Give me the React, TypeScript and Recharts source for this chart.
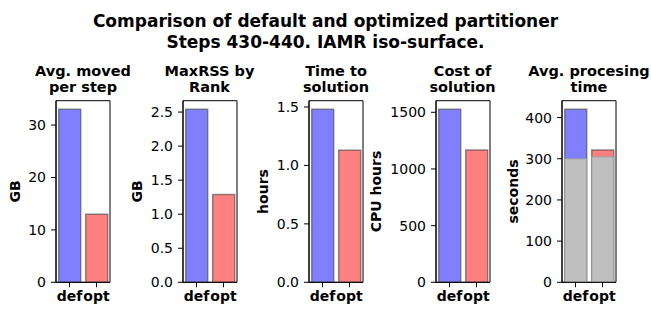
import { BarChart, Bar, XAxis, YAxis, Cell, ReferenceArea } from "recharts";

const FONT = "DejaVu Sans, Verdana, sans-serif";

const categories = ["def", "opt"];
const barColors = ["#8080ff", "#ff8080"];

// values
const movedGB = [33.0, 13.0];
const maxRssGB = [2.54, 1.29];
const timeHours = [1.48, 1.13];
const costCpuHours = [1526, 1167];
const procTotalSec = [420, 321];
const procBaseSec = [300, 305];

const movedTicks = [0, 10, 20, 30];
const rssTicks = [0, 0.5, 1.0, 1.5, 2.0, 2.5];
const timeTicks = [0, 0.5, 1.0, 1.5];
const costTicks = [0, 500, 1000, 1500];
const procTicks = [0, 100, 200, 300, 400];

const titleLines = [
  "Comparison of default and optimized partitioner",
  "Steps 430-440. IAMR iso-surface.",
];

// frame geometry (px)
const PLOT_TOP = 100.7;
const PLOT_BOTTOM = 282.3;
const PLOT_W = 54;
const AXIS_W = 60;

interface PanelDef {
  left: number;
  title: [string, string];
  ylabel: string;
  ylabelOffset: number;
  values: number[];
  base?: number[];
  ticks: number[];
  decimals: number;
}

const panels: PanelDef[] = [
  { left: 56, title: ["Avg. moved", "per step"], ylabel: "GB", ylabelOffset: 41.5, values: movedGB, ticks: movedTicks, decimals: 0 },
  { left: 182.5, title: ["MaxRSS by", "Rank"], ylabel: "GB", ylabelOffset: 45.6, values: maxRssGB, ticks: rssTicks, decimals: 1 },
  { left: 309, title: ["Time to", "solution"], ylabel: "hours", ylabelOffset: 46, values: timeHours, ticks: timeTicks, decimals: 1 },
  { left: 435.5, title: ["Cost of", "solution"], ylabel: "CPU hours", ylabelOffset: 60, values: costCpuHours, ticks: costTicks, decimals: 0 },
  { left: 562, title: ["Avg. procesing", "time"], ylabel: "seconds", ylabelOffset: 49, values: procTotalSec, base: procBaseSec, ticks: procTicks, decimals: 0 },
];

function Panel({ p }: { p: PanelDef }) {
  const data = categories.map((c, i) => ({
    name: c,
    value: p.values[i],
    base: p.base ? p.base[i] : undefined,
  }));
  const ymax = Math.max(...p.values) * 1.05;
  const tickStyle = { fontSize: 14, fill: "#000", fontFamily: FONT };
  return (
    <div style={{ position: "absolute", left: p.left - AXIS_W, top: 0 }}>
      <BarChart
        width={AXIS_W + PLOT_W + 4}
        height={309}
        data={data}
        margin={{ top: PLOT_TOP, right: 4, bottom: 0, left: 0 }}
        barCategoryGap="10%"
      >
        <XAxis
          dataKey="name"
          xAxisId="bottom"
          height={309 - PLOT_BOTTOM}
          interval={0}
          tickSize={5}
          tickMargin={3.5}
          tick={{ ...tickStyle, fontWeight: "bold" }}
          axisLine={{ stroke: "#000" }}
          tickLine={{ stroke: "#000" }}
        />
        <XAxis dataKey="name" xAxisId="top" orientation="top" height={0} hide />
        <YAxis
          yAxisId="left"
          type="number"
          width={AXIS_W}
          domain={[0, ymax]}
          ticks={p.ticks}
          interval={0}
          tickSize={5}
          tickMargin={5}
          tickFormatter={(v: number) => v.toFixed(p.decimals)}
          tick={tickStyle}
          axisLine={{ stroke: "#000" }}
          tickLine={{ stroke: "#000" }}
        />
        <Bar
          dataKey="value"
          xAxisId="bottom"
          yAxisId="left"
          isAnimationActive={false}
          stroke="#444"
          strokeOpacity={0.6}
          strokeWidth={1.5}
        >
          {data.map((d, i) => (
            <Cell key={d.name} fill={barColors[i]} />
          ))}
        </Bar>
        {p.base && (
          <Bar
            dataKey="base"
            xAxisId="top"
            yAxisId="left"
            isAnimationActive={false}
            fill="#bfbfbf"
            stroke="#999"
            strokeOpacity={0.5}
            strokeWidth={1.5}
          />
        )}
        <ReferenceArea
          xAxisId="bottom"
          yAxisId="left"
          y1={0}
          y2={ymax}
          fill="none"
          fillOpacity={0}
          stroke="#000"
          strokeWidth={1}
        />
      </BarChart>
    </div>
  );
}

export default function App() {
  const midY = (PLOT_TOP + PLOT_BOTTOM) / 2;
  return (
    <div
      style={{
        position: "absolute",
        left: 0,
        top: 0,
        width: 651,
        height: 309,
        background: "#fff",
        fontFamily: FONT,
      }}
    >
      {panels.map((p) => (
        <Panel key={p.title.join(" ")} p={p} />
      ))}
      <svg
        width={651}
        height={309}
        style={{ position: "absolute", left: 0, top: 0, pointerEvents: "none" }}
      >
        <g fontFamily={FONT} fontWeight="bold" fill="#000" textAnchor="middle">
          <text x={325.5} y={26.5} fontSize={17}>{titleLines[0]}</text>
          <text x={325.5} y={47.5} fontSize={17}>{titleLines[1]}</text>
          {panels.map((p) => (
            <g key={p.ylabel + p.left}>
              <text x={p.left + PLOT_W / 2} y={75.5} fontSize={14.5}>{p.title[0]}</text>
              <text x={p.left + PLOT_W / 2} y={91.5} fontSize={14.5}>{p.title[1]}</text>
              <text
                x={p.left - p.ylabelOffset}
                y={midY}
                fontSize={14}
                dominantBaseline="central"
                transform={`rotate(-90 ${p.left - p.ylabelOffset} ${midY})`}
              >
                {p.ylabel}
              </text>
            </g>
          ))}
        </g>
      </svg>
    </div>
  );
}
